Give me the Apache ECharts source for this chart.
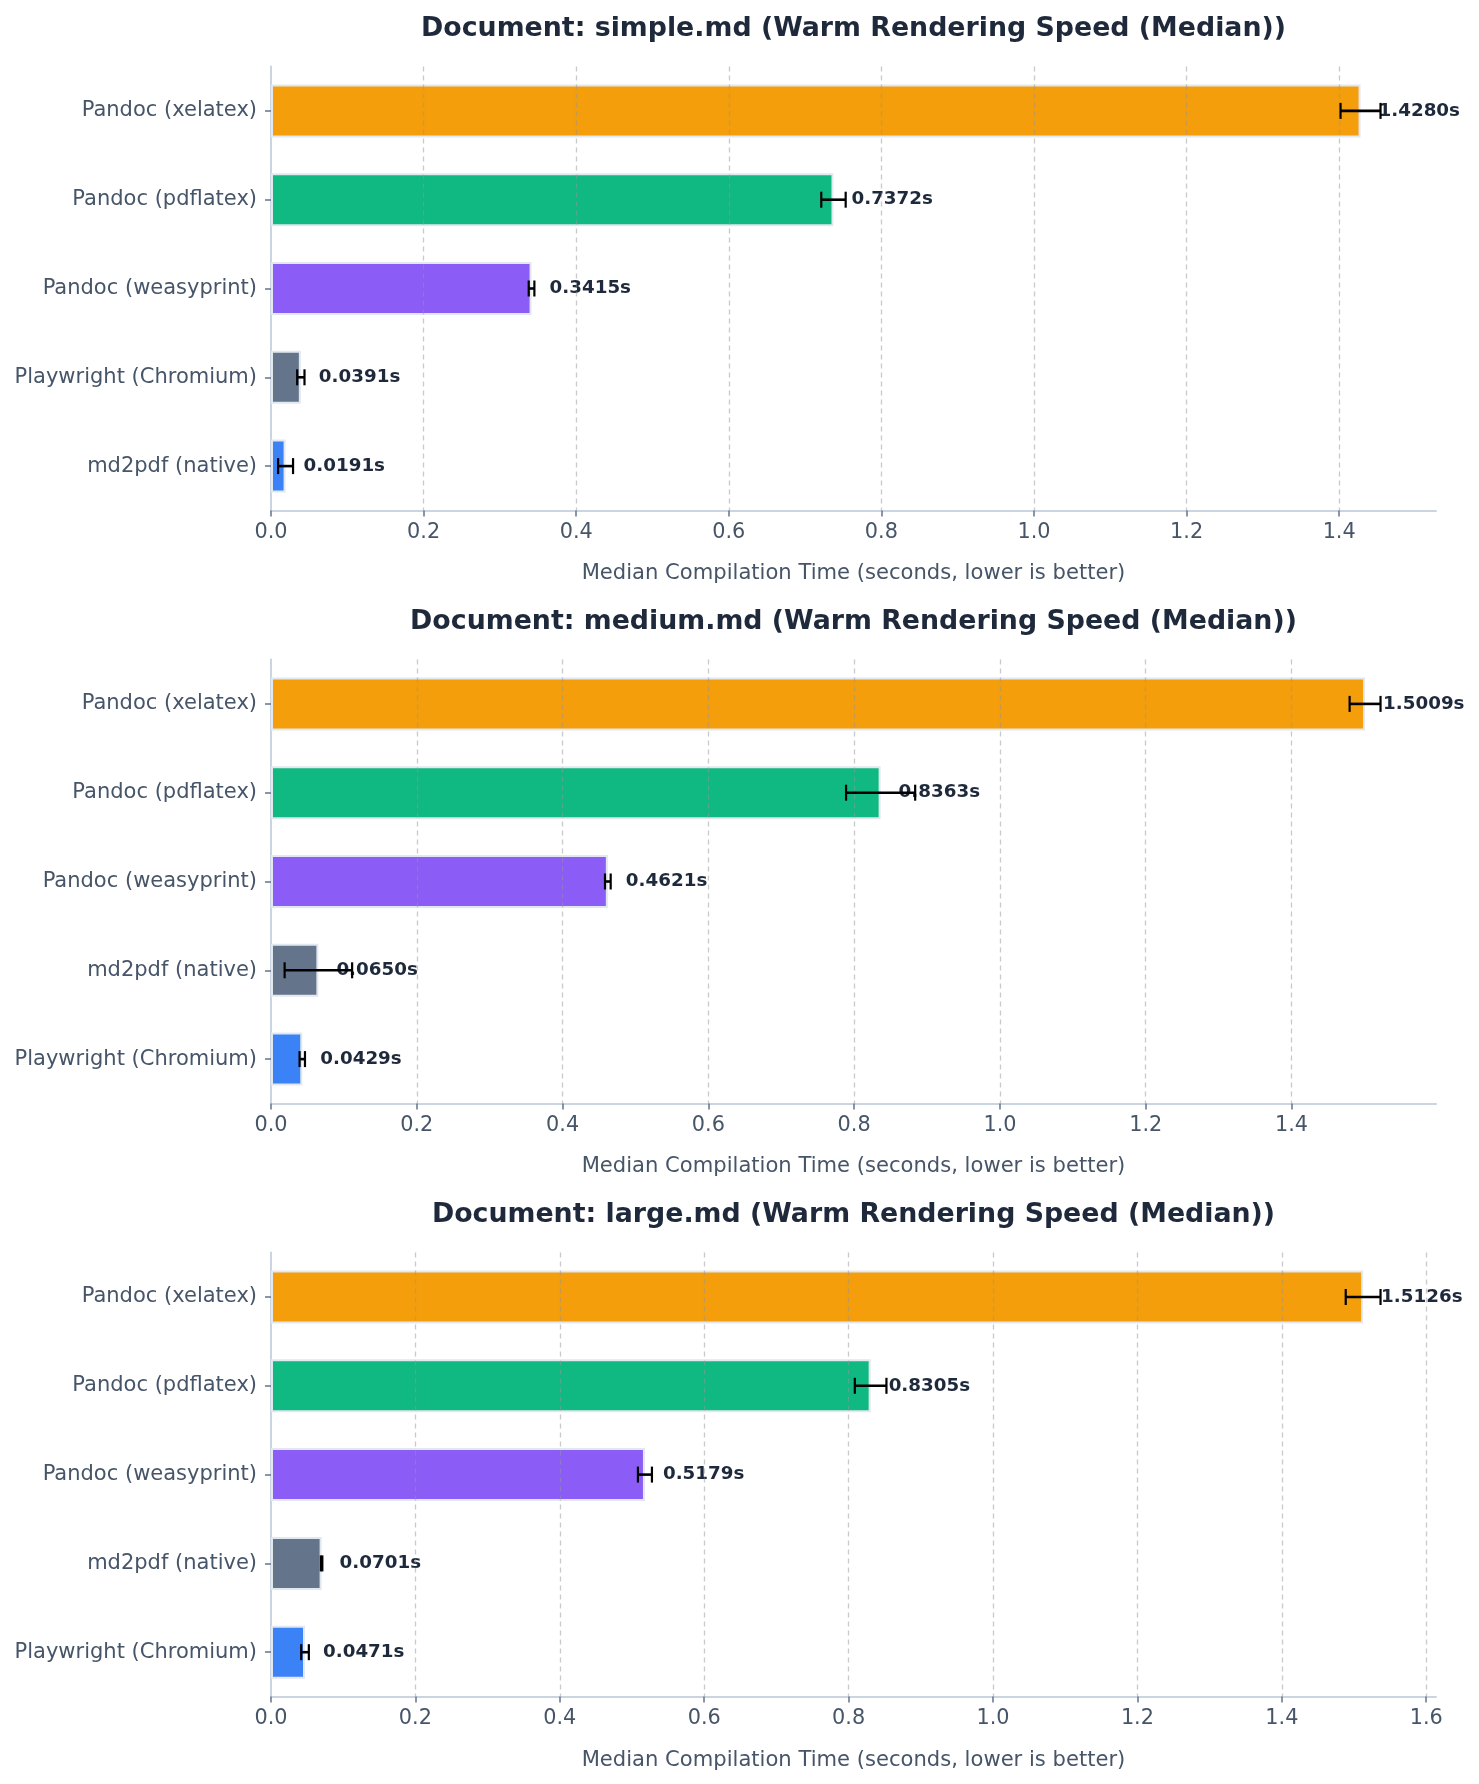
<!DOCTYPE html>
<html><head><meta charset="utf-8">
<script src="https://cdn.jsdelivr.net/npm/echarts@6/dist/echarts.min.js"></script>
<style>html,body{margin:0;padding:0;background:#fff}#chart{width:1479px;height:1784px}</style>
</head><body><div id="chart"></div>
<script>
// ---- data ----
const panelTitles = [
  'Document: simple.md (Warm Rendering Speed (Median))',
  'Document: medium.md (Warm Rendering Speed (Median))',
  'Document: large.md (Warm Rendering Speed (Median))'
];
const simpleCategories = ['Pandoc (xelatex)', 'Pandoc (pdflatex)', 'Pandoc (weasyprint)', 'Playwright (Chromium)', 'md2pdf (native)'];
const simpleMedian = [1.4280, 0.7372, 0.3415, 0.0391, 0.0191];
const simpleError = [0.0262, 0.0160, 0.0037, 0.0048, 0.0098];

const mediumCategories = ['Pandoc (xelatex)', 'Pandoc (pdflatex)', 'Pandoc (weasyprint)', 'md2pdf (native)', 'Playwright (Chromium)'];
const mediumMedian = [1.5009, 0.8363, 0.4621, 0.0650, 0.0429];
const mediumError = [0.0212, 0.0474, 0.0039, 0.0463, 0.0037];

const largeCategories = ['Pandoc (xelatex)', 'Pandoc (pdflatex)', 'Pandoc (weasyprint)', 'md2pdf (native)', 'Playwright (Chromium)'];
const largeMedian = [1.5126, 0.8305, 0.5179, 0.0701, 0.0471];
const largeError = [0.0241, 0.0219, 0.0097, 0.0010, 0.0053];

const rankColors = ['#f59e0b', '#10b981', '#8b5cf6', '#64748b', '#3b82f6'];
const simpleTicks = [0, 0.2, 0.4, 0.6, 0.8, 1.0, 1.2, 1.4];
const mediumTicks = [0, 0.2, 0.4, 0.6, 0.8, 1.0, 1.2, 1.4];
const largeTicks = [0, 0.2, 0.4, 0.6, 0.8, 1.0, 1.2, 1.4, 1.6];
const xAxisName = 'Median Compilation Time (seconds, lower is better)';

// ---- layout ----
const W = 1479;
const gridLeft = 271, gridRight = 43, gridHeight = 444;
const gridTops = [66.5, 659.5, 1252.6];
const FONT = 'DejaVu Sans';
const panels = [
  {cats: simpleCategories, med: simpleMedian, err: simpleError, ticks: simpleTicks},
  {cats: mediumCategories, med: mediumMedian, err: mediumError, ticks: mediumTicks},
  {cats: largeCategories, med: largeMedian, err: largeError, ticks: largeTicks}
];

function renderErr(params, api) {
  const idx = api.value(1);
  const lo = api.coord([api.value(0), idx]);
  const hi = api.coord([api.value(2), idx]);
  const y = lo[1], cap = 8;
  return {type: 'group', children: [
    {type: 'line', shape: {x1: lo[0], y1: y, x2: hi[0], y2: y}, style: {stroke: '#000', lineWidth: 2.6}},
    {type: 'line', shape: {x1: lo[0], y1: y - cap, x2: lo[0], y2: y + cap}, style: {stroke: '#000', lineWidth: 2.2}},
    {type: 'line', shape: {x1: hi[0], y1: y - cap, x2: hi[0], y2: y + cap}, style: {stroke: '#000', lineWidth: 2.2}}
  ]};
}

const option = {animation: false, backgroundColor: '#fff', title: [], grid: [], xAxis: [], yAxis: [], series: []};
const centerX = (gridLeft + (W - gridRight)) / 2;

panels.forEach((p, k) => {
  const xMax = Math.max(...p.med.map((v, i) => v + p.err[i])) * 1.05;
  option.title.push({
    text: panelTitles[k], left: centerX, top: gridTops[k] - 51, textAlign: 'center', padding: 0,
    textStyle: {fontFamily: FONT, fontSize: 26.8, fontWeight: 'bold', color: '#1e293b'}
  });
  option.grid.push({left: gridLeft, right: gridRight, top: gridTops[k], height: gridHeight, containLabel: false});
  option.xAxis.push({
    type: 'value', gridIndex: k, min: 0, max: xMax,
    name: xAxisName, nameLocation: 'middle', nameGap: 53,
    nameTextStyle: {fontFamily: FONT, fontSize: 21.1, color: '#475569'},
    axisLine: {show: true, lineStyle: {color: '#cbd5e1', width: 2}},
    axisTick: {show: true, length: 6, customValues: p.ticks, lineStyle: {color: '#64748b', width: 1.5}},
    axisLabel: {customValues: p.ticks, margin: 12, fontFamily: FONT, fontSize: 20.8, color: '#475569',
      formatter: v => v.toFixed(1)},
    splitLine: {show: false}
  });
  option.yAxis.push({
    type: 'category', gridIndex: k, data: p.cats, inverse: true,
    axisLine: {show: true, lineStyle: {color: '#cbd5e1', width: 2}},
    axisTick: {show: true, alignWithLabel: true, length: 6, lineStyle: {color: '#64748b', width: 1.5}},
    axisLabel: {margin: 14, fontFamily: FONT, fontSize: 21, color: '#475569'},
    splitLine: {show: false}
  });
  option.series.push({
    type: 'bar', xAxisIndex: k, yAxisIndex: k, barWidth: 53,
    data: p.med.map((v, i) => ({value: v, itemStyle: {color: rankColors[i]}})),
    itemStyle: {borderColor: '#e2e8f0', borderWidth: 2},
    label: {show: true, position: 'right', distance: 18, formatter: d => d.value.toFixed(4) + 's',
      fontFamily: FONT, fontSize: 18.3, fontWeight: 'bold', color: '#1e293b'},
    markLine: {
      silent: true, symbol: ['none', 'none'], label: {show: false},
      lineStyle: {color: 'rgba(150,150,150,0.5)', width: 1.3, type: [5, 4]},
      data: p.ticks.filter(t => t > 0).map(t => ({xAxis: t}))
    }
  });
  option.series.push({
    type: 'custom', xAxisIndex: k, yAxisIndex: k, renderItem: renderErr, z: 5,
    encode: {x: [0, 2], y: 1},
    data: p.med.map((v, i) => [v - p.err[i], i, v + p.err[i]])
  });
});

const chart = echarts.init(document.getElementById('chart'), null, {renderer: 'canvas'});
chart.setOption(option);
</script>
</body></html>
